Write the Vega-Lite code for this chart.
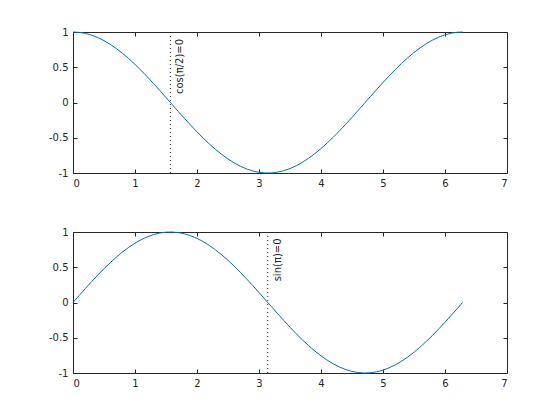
{
  "$schema": "https://vega.github.io/schema/vega-lite/v6.json",
  "padding": {"left": 47, "top": 26, "right": 0, "bottom": 0},
  "background": "white",
  "datasets": {
    "curve": [
      {"x":0,"c":1,"s":0},{"x":0.1,"c":0.995,"s":0.0998},{"x":0.2,"c":0.9801,"s":0.1987},{"x":0.3,"c":0.9553,"s":0.2955},{"x":0.4,"c":0.9211,"s":0.3894},{"x":0.5,"c":0.8776,"s":0.4794},{"x":0.6,"c":0.8253,"s":0.5646},{"x":0.7,"c":0.7648,"s":0.6442},{"x":0.8,"c":0.6967,"s":0.7174},{"x":0.9,"c":0.6216,"s":0.7833},{"x":1.0,"c":0.5403,"s":0.8415},{"x":1.1,"c":0.4536,"s":0.8912},{"x":1.2,"c":0.3624,"s":0.932},{"x":1.3,"c":0.2675,"s":0.9636},{"x":1.4,"c":0.17,"s":0.9854},{"x":1.5,"c":0.0707,"s":0.9975},{"x":1.6,"c":-0.0292,"s":0.9996},{"x":1.7,"c":-0.1288,"s":0.9917},{"x":1.8,"c":-0.2272,"s":0.9738},{"x":1.9,"c":-0.3233,"s":0.9463},{"x":2.0,"c":-0.4161,"s":0.9093},{"x":2.1,"c":-0.5048,"s":0.8632},{"x":2.2,"c":-0.5885,"s":0.8085},{"x":2.3,"c":-0.6663,"s":0.7457},{"x":2.4,"c":-0.7374,"s":0.6755},{"x":2.5,"c":-0.8011,"s":0.5985},{"x":2.6,"c":-0.8569,"s":0.5155},{"x":2.7,"c":-0.9041,"s":0.4274},{"x":2.8,"c":-0.9422,"s":0.335},{"x":2.9,"c":-0.971,"s":0.2392},{"x":3.0,"c":-0.99,"s":0.1411},{"x":3.1,"c":-0.9991,"s":0.0416},{"x":3.2,"c":-0.9983,"s":-0.0584},{"x":3.3,"c":-0.9875,"s":-0.1577},{"x":3.4,"c":-0.9668,"s":-0.2555},{"x":3.5,"c":-0.9365,"s":-0.3508},{"x":3.6,"c":-0.8968,"s":-0.4425},{"x":3.7,"c":-0.8481,"s":-0.5298},{"x":3.8,"c":-0.791,"s":-0.6119},{"x":3.9,"c":-0.7259,"s":-0.6878},{"x":4.0,"c":-0.6536,"s":-0.7568},{"x":4.1,"c":-0.5748,"s":-0.8183},{"x":4.2,"c":-0.4903,"s":-0.8716},{"x":4.3,"c":-0.4008,"s":-0.9162},{"x":4.4,"c":-0.3073,"s":-0.9516},{"x":4.5,"c":-0.2108,"s":-0.9775},{"x":4.6,"c":-0.1122,"s":-0.9937},{"x":4.7,"c":-0.0124,"s":-0.9999},{"x":4.8,"c":0.0875,"s":-0.9962},{"x":4.9,"c":0.1865,"s":-0.9825},{"x":5.0,"c":0.2837,"s":-0.9589},{"x":5.1,"c":0.378,"s":-0.9258},{"x":5.2,"c":0.4685,"s":-0.8835},{"x":5.3,"c":0.5544,"s":-0.8323},{"x":5.4,"c":0.6347,"s":-0.7728},{"x":5.5,"c":0.7087,"s":-0.7055},{"x":5.6,"c":0.7756,"s":-0.6313},{"x":5.7,"c":0.8347,"s":-0.5507},{"x":5.8,"c":0.8855,"s":-0.4646},{"x":5.9,"c":0.9275,"s":-0.3739},{"x":6.0,"c":0.9602,"s":-0.2794},{"x":6.1,"c":0.9833,"s":-0.1822},{"x":6.2,"c":0.9965,"s":-0.0831},{"x":6.2832,"c":1,"s":0}
    ],
    "noteTop": [{"x": 1.5708, "y1": -1, "y2": 1, "ty": 0.12, "label": "cos(π/2)=0"}],
    "noteBottom": [{"x": 3.1416, "y1": -1, "y2": 1, "ty": 0.3, "label": "sin(π)=0"}]
  },
  "config": {
    "view": {"stroke": "#262626", "strokeWidth": 1},
    "font": "DejaVu Sans",
    "axis": {
      "grid": false,
      "domain": false,
      "tickSize": -4,
      "tickColor": "#262626",
      "tickWidth": 1,
      "labelFont": "DejaVu Sans",
      "labelFontSize": 10,
      "labelColor": "#262626",
      "labelPadding": 10,
      "title": null
    }
  },
  "spacing": 37,
  "vconcat": [
    {
      "width": 434,
      "height": 141,
      "resolve": {"axis": {"x": "independent", "y": "independent"}},
      "layer": [
        {
          "data": {"name": "curve"},
          "mark": {"type": "line", "color": "#0072bd", "strokeWidth": 1},
          "encoding": {
            "x": {"field": "x", "type": "quantitative", "scale": {"domain": [0, 7], "nice": false, "zero": false},
                  "axis": {"orient": "bottom", "values": [0,1,2,3,4,5,6,7], "format": "d", "labelPadding": 9}},
            "y": {"field": "c", "type": "quantitative", "scale": {"domain": [-1, 1], "nice": false},
                  "axis": {"orient": "left", "values": [-1,-0.5,0,0.5,1], "labelExpr": "datum.value < 0 ? '-' + format(-datum.value, '~g') : format(datum.value, '~g')", "labelPadding": 9}}
          }
        },
        {
          "data": {"name": "noteTop"},
          "mark": {"type": "rule", "stroke": "#262626", "strokeWidth": 1, "strokeDash": [1, 3]},
          "encoding": {
            "x": {"field": "x", "type": "quantitative", "axis": {"orient": "top", "values": [0,1,2,3,4,5,6,7], "labels": false}},
            "y": {"field": "y1", "type": "quantitative", "axis": {"orient": "right", "values": [-1,-0.5,0,0.5,1], "labels": false}},
            "y2": {"field": "y2"}
          }
        },
        {
          "data": {"name": "noteTop"},
          "mark": {"type": "text", "angle": 270, "align": "left", "baseline": "middle", "dy": 10, "fontSize": 10, "font": "DejaVu Sans", "color": "#262626"},
          "encoding": {
            "x": {"field": "x", "type": "quantitative", "axis": null},
            "y": {"field": "ty", "type": "quantitative", "axis": null},
            "text": {"field": "label"}
          }
        }
      ]
    },
    {
      "width": 434,
      "height": 141,
      "resolve": {"axis": {"x": "independent", "y": "independent"}},
      "layer": [
        {
          "data": {"name": "curve"},
          "mark": {"type": "line", "color": "#0072bd", "strokeWidth": 1},
          "encoding": {
            "x": {"field": "x", "type": "quantitative", "scale": {"domain": [0, 7], "nice": false, "zero": false},
                  "axis": {"orient": "bottom", "values": [0,1,2,3,4,5,6,7], "format": "d", "labelPadding": 9}},
            "y": {"field": "s", "type": "quantitative", "scale": {"domain": [-1, 1], "nice": false},
                  "axis": {"orient": "left", "values": [-1,-0.5,0,0.5,1], "labelExpr": "datum.value < 0 ? '-' + format(-datum.value, '~g') : format(datum.value, '~g')", "labelPadding": 9}}
          }
        },
        {
          "data": {"name": "noteBottom"},
          "mark": {"type": "rule", "stroke": "#262626", "strokeWidth": 1, "strokeDash": [1, 3]},
          "encoding": {
            "x": {"field": "x", "type": "quantitative", "axis": {"orient": "top", "values": [0,1,2,3,4,5,6,7], "labels": false}},
            "y": {"field": "y1", "type": "quantitative", "axis": {"orient": "right", "values": [-1,-0.5,0,0.5,1], "labels": false}},
            "y2": {"field": "y2"}
          }
        },
        {
          "data": {"name": "noteBottom"},
          "mark": {"type": "text", "angle": 270, "align": "left", "baseline": "middle", "dy": 10, "fontSize": 10, "font": "DejaVu Sans", "color": "#262626"},
          "encoding": {
            "x": {"field": "x", "type": "quantitative", "axis": null},
            "y": {"field": "ty", "type": "quantitative", "axis": null},
            "text": {"field": "label"}
          }
        }
      ]
    }
  ]
}
